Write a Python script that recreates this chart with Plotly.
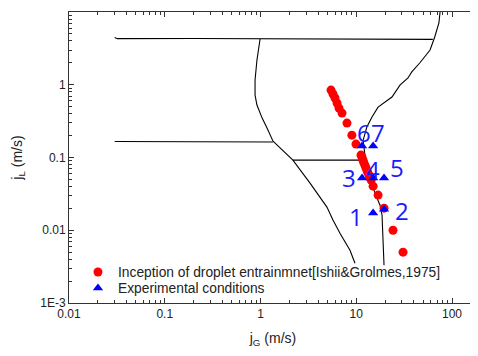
import numpy as np
import plotly.graph_objects as go

# Flow-regime boundary lines (jG, jL)
lineA_jg = [0.030, 0.032, 0.2, 1.0, 10, 63]
lineA_jl = [4.45, 4.3, 4.32, 4.28, 4.25, 4.2]

lineB_jg = [0.99, 0.918, 0.877, 0.877, 0.918, 1.04, 1.17, 1.35]
lineB_jl = [4.25, 2.19, 1.16, 0.72, 0.526, 0.348, 0.254, 0.168]

lineC_jg = [0.030, 1.35]
lineC_jl = [0.166, 0.163]

lineD_jg = [1.35, 2.18, 3.29, 4.18, 4.94, 5.71, 6.76, 8.6, 9.7]
lineD_jl = [0.168, 0.092, 0.0445, 0.0285, 0.0208, 0.0138, 0.00912, 0.00532, 0.00352]

lineE_jg = [2.18, 10.9]
lineE_jl = [0.092, 0.092]

lineF_jg = [75, 73, 66, 59, 46, 38, 34.7, 28.6, 23.6, 16.9, 14.6, 12.9, 11.8, 12.4, 13.8, 15.7, 17.7, 18.6, 19.0, 19.5]
lineF_jl = [10, 7.06, 4.53, 3.0, 1.99, 1.50, 1.24, 0.99, 0.678, 0.493, 0.36, 0.262, 0.173, 0.1, 0.055, 0.0324, 0.0221, 0.0161, 0.00778, 0.00331]

# Inception of droplet entrainment [Ishii & Grolmes, 1975]
ent_jg = [5.45, 5.72, 6.0, 6.3, 6.6, 7.1, 8.0, 9.0, 9.93, 11.2, 11.5, 11.75, 12.0, 12.3, 12.6, 12.9, 13.2, 13.6, 13.9, 14.3, 15.0, 16.9, 19.5, 24.2, 30.8]
ent_jl = [0.845, 0.745, 0.657, 0.56, 0.478, 0.408, 0.297, 0.203, 0.153, 0.108, 0.1, 0.092, 0.085, 0.0786, 0.0725, 0.0671, 0.062, 0.0573, 0.053, 0.0489, 0.0404, 0.0304, 0.0201, 0.0100, 0.0050]

# Experimental conditions
exp_labels = ["1", "2", "3", "4", "5", "6", "7"]
exp_jg = [15.0, 19.5, 11.5, 15.0, 19.5, 11.5, 15.0]
exp_jl = [0.0172, 0.0195, 0.0521, 0.0521, 0.0521, 0.1435, 0.1435]
lab_jg = [9.94, 30.1, 8.4, 15.0, 26.7, 12.05, 16.9]
lab_jl = [0.0156, 0.0189, 0.0537, 0.0692, 0.0738, 0.223, 0.223]

# Axis ticks
x_ticks = [0.01, 0.1, 1, 10, 100]
x_ticktext = ["0.01", "0.1", "1", "10", "100"]
y_ticks = [0.001, 0.01, 0.1, 1, 10]
y_ticktext = ["1E-3", "0.01", "0.1", "1", "10"]
x_minor = [m * d for d in [0.01, 0.1, 1, 10, 100] for m in range(2, 10)]
y_minor = [m * d for d in [0.001, 0.01, 0.1, 1] for m in range(2, 10)]

AX = "#333333"
fig = go.Figure()
for xs, ys in [(lineA_jg, lineA_jl), (lineB_jg, lineB_jl), (lineC_jg, lineC_jl),
               (lineD_jg, lineD_jl), (lineE_jg, lineE_jl), (lineF_jg, lineF_jl)]:
    fig.add_trace(go.Scatter(x=xs, y=ys, mode="lines", showlegend=False,
                             line=dict(color="black", width=1.1), hoverinfo="skip"))

fig.add_trace(go.Scatter(x=ent_jg, y=ent_jl, mode="markers",
                         name="Inception of droplet entrainmnet[Ishii&Grolmes,1975]",
                         marker=dict(color="#ff0000", size=9, symbol="circle")))
fig.add_trace(go.Scatter(x=exp_jg, y=exp_jl, mode="markers", legend="legend2",
                         name="Experimental conditions",
                         marker=dict(color="#0000ff", size=9, symbol="triangle-up")))
# empty trace to host the minor-tick overlay axes
fig.add_trace(go.Scatter(x=[None], y=[None], xaxis="x2", yaxis="y2",
                         showlegend=False, hoverinfo="skip"))

for t, x, y in zip(exp_labels, lab_jg, lab_jl):
    fig.add_annotation(x=np.log10(x), y=np.log10(y), text=t, showarrow=False,
                       xref="x", yref="y",
                       font=dict(family="Open Sans", size=24, color="#1a1aff"))

axis_common = dict(type="log", showgrid=False, zeroline=False, showline=True,
                   linecolor=AX, linewidth=1, mirror="allticks",
                   ticks="inside", ticklen=5, tickwidth=1, tickcolor=AX,
                   tickfont=dict(family="Liberation Sans", size=12, color="#222222"))

xr = [-2, 2.261]
yr = [-3, 1]
fig.update_layout(
    xaxis=dict(**axis_common, range=xr, tickvals=x_ticks, ticktext=x_ticktext,
               title=dict(text="j<sub>G</sub> (m/s)", standoff=12,
                          font=dict(family="Liberation Sans", size=14, color="#222222"))),
    yaxis=dict(**axis_common, range=yr, tickvals=y_ticks, ticktext=y_ticktext,
               title=dict(text="j<sub>L</sub> (m/s)", standoff=14,
                          font=dict(family="Liberation Sans", size=14, color="#222222"))),
    xaxis2=dict(type="log", range=xr, overlaying="x", anchor="y2", side="bottom",
                tickmode="array", tickvals=x_minor, showticklabels=False,
                ticks="inside", ticklen=3, tickwidth=1, tickcolor=AX,
                showline=True, linecolor=AX, linewidth=1, mirror="allticks",
                showgrid=False, zeroline=False),
    yaxis2=dict(type="log", range=yr, overlaying="y", anchor="x2", side="left",
                tickmode="array", tickvals=y_minor, showticklabels=False,
                ticks="inside", ticklen=3, tickwidth=1, tickcolor=AX,
                showline=True, linecolor=AX, linewidth=1, mirror="allticks",
                showgrid=False, zeroline=False),
)

# page has an 8px default body margin, so the figure is shrunk by 8px
leg_font = dict(family="Liberation Sans", size=13.8, color="#222222")
fig.update_layout(width=470, height=348, margin=dict(l=61, r=1, t=4, b=53),
                  plot_bgcolor="white", paper_bgcolor="white",
                  legend=dict(x=0.022, y=0.1065, xanchor="left", yanchor="middle",
                              bgcolor="rgba(0,0,0,0)", font=leg_font),
                  legend2=dict(x=0.022, y=0.0515, xanchor="left", yanchor="middle",
                               bgcolor="rgba(0,0,0,0)", font=leg_font))

fig.write_html("out.html")
